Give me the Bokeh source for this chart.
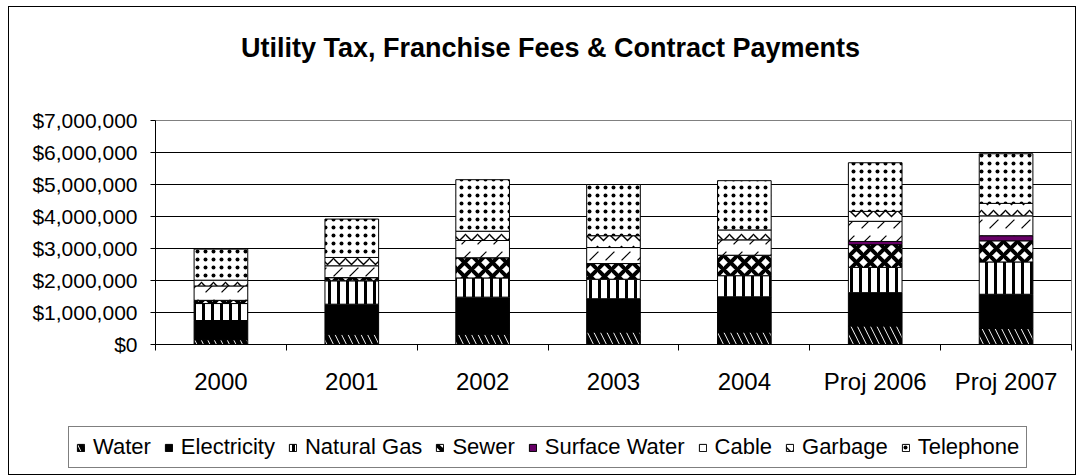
from bokeh.plotting import figure
from bokeh.layouts import column
from bokeh.models import (Range1d, LinearAxis, FixedTicker, Legend, LegendItem,
                          ColumnDataSource, Label)
from bokeh.embed import file_html
from bokeh.resources import INLINE

categories = ["2000", "2001", "2002", "2003", "2004", "Proj 2006", "Proj 2007"]
series_names = ["Water", "Electricity", "Natural Gas", "Sewer", "Surface Water",
                "Cable", "Garbage", "Telephone"]

water         = [150000, 320000, 320000, 390000, 390000, 580000, 500000]
electricity   = [600000, 940000, 1160000, 1040000, 1100000, 1040000, 1070000]
natural_gas   = [530000, 730000, 600000, 610000, 660000, 790000, 1010000]
sewer         = [100000, 100000, 630000, 490000, 640000, 710000, 660000]
surface_water = [0, 0, 0, 0, 0, 100000, 160000]
cable         = [450000, 370000, 540000, 500000, 480000, 630000, 620000]
garbage       = [180000, 260000, 290000, 370000, 310000, 310000, 390000]
telephone     = [970000, 1200000, 1610000, 1600000, 1540000, 1520000, 1550000]

y_ticks = [0, 1000000, 2000000, 3000000, 4000000, 5000000, 6000000, 7000000]
y_tick_labels = ["$0", "$1,000,000", "$2,000,000", "$3,000,000", "$4,000,000",
                 "$5,000,000", "$6,000,000", "$7,000,000"]

title_text = "Utility Tax, Franchise Fees & Contract Payments"

FONT = "Liberation Sans"
W = 1066

n_cat = len(categories)
centers = [i + 0.5 for i in range(n_cat)]
edges = list(range(n_cat + 1))

src = ColumnDataSource(data={
    "x": centers,
    "Water": water, "Electricity": electricity, "Natural Gas": natural_gas,
    "Sewer": sewer, "Surface Water": surface_water, "Cable": cable,
    "Garbage": garbage, "Telephone": telephone,
})

fills = ["white", "black", "white", "white", "#660066", "white", "white", "white"]
hatches = ["left_diagonal_line", "blank", "vertical_line", "diagonal_cross",
           "blank", "right_diagonal_dash", "horizontal_wave", "dot"]
hweights = [5, 1, 3, 4, 1, 1.2, 1.4, 1.3]
hscales = [13, 12, 9, 14, 12, 16, 12, 8]


def add_bars(fig, **kw):
    return fig.vbar_stack(series_names, x="x", width=0.41, source=src,
                          fill_color=fills, hatch_pattern=hatches,
                          hatch_color="black", hatch_weight=hweights,
                          hatch_scale=hscales, line_color="black", line_width=1,
                          **kw)


def no_frame_align(fig):
    try:
        fig.frame_align = False
    except Exception:
        pass


# ---- title strip ----
tf = figure(width=W, height=80, x_range=Range1d(0, W), y_range=Range1d(0, 80),
            output_backend="svg", toolbar_location=None, title=None,
            x_axis_location=None, y_axis_location=None, min_border=0)
no_frame_align(tf)
tf.grid.visible = False
tf.outline_line_color = None
tf.add_layout(Label(x=541, y=40, text=title_text, text_align="center",
                    text_baseline="middle", text_font=FONT,
                    text_font_size="27px", text_font_style="bold",
                    text_color="black"))

# ---- main chart ----
p = figure(x_range=Range1d(0, n_cat), y_range=Range1d(0, 7000000),
           width=W, height=333, output_backend="svg", toolbar_location=None,
           title=None, x_axis_location=None, min_border_left=146,
           min_border_right=4, min_border_top=33, min_border_bottom=76)
no_frame_align(p)
p.background_fill_color = "white"
p.border_fill_color = "white"
p.outline_line_color = "#808080"
p.outline_line_width = 1

p.yaxis.ticker = FixedTicker(ticks=y_ticks)
p.yaxis.major_label_overrides = {t: l for t, l in zip(y_ticks, y_tick_labels)}
p.yaxis.major_label_text_font = FONT
p.yaxis.major_label_text_font_size = "21px"
p.yaxis.major_label_text_color = "black"
p.yaxis.axis_line_color = "black"
p.yaxis.major_tick_line_color = "black"
p.yaxis.major_tick_out = 5
p.yaxis.major_tick_in = 0
p.yaxis.minor_tick_line_color = None
p.yaxis.major_label_standoff = 13

p.xgrid.grid_line_color = None
p.ygrid.grid_line_color = "black"
p.ygrid.grid_line_width = 1

# tick marks between categories (no labels drawn)
tick_axis = LinearAxis(ticker=FixedTicker(ticks=edges),
                       major_label_text_font_size="1px",
                       major_label_text_color=None, major_label_standoff=0,
                       major_tick_out=6, major_tick_in=0,
                       minor_tick_line_color=None, axis_line_color="black")
p.add_layout(tick_axis, "below")
# category labels at bar centres
cat_axis = LinearAxis(ticker=FixedTicker(ticks=centers),
                      major_label_overrides={c: n for c, n in zip(centers, categories)},
                      axis_line_color=None, major_tick_line_color=None,
                      minor_tick_line_color=None,
                      major_label_standoff=11,
                      major_label_text_font=FONT,
                      major_label_text_font_size="24px",
                      major_label_text_color="black")
p.add_layout(cat_axis, "below")

add_bars(p)

# ---- legend strip ----
lf = figure(width=W, height=54, x_range=Range1d(0, 1), y_range=Range1d(0, 1),
            output_backend="svg", toolbar_location=None, title=None,
            x_axis_location=None, y_axis_location=None, min_border=0)
no_frame_align(lf)
lf.grid.visible = False
lf.outline_line_color = None
legend_renderers = add_bars(lf, visible=False)
legend = Legend(items=[LegendItem(label=n, renderers=[r])
                       for n, r in zip(series_names, legend_renderers)],
                orientation="horizontal", location=(59, 6),
                label_text_font=FONT, label_text_font_size="22px",
                label_text_color="black", glyph_width=9, glyph_height=9,
                label_standoff=8, spacing=13, padding=7, margin=0,
                border_line_color="black", border_line_width=1,
                background_fill_color="white", background_fill_alpha=1,
                inactive_fill_alpha=0)
lf.add_layout(legend)

layout = column(tf, p, lf, spacing=0,
                styles={"border": "1px solid black", "margin-left": "8px",
                        "margin-top": "6px"})

open("out.html", "w").write(file_html(layout, INLINE))
